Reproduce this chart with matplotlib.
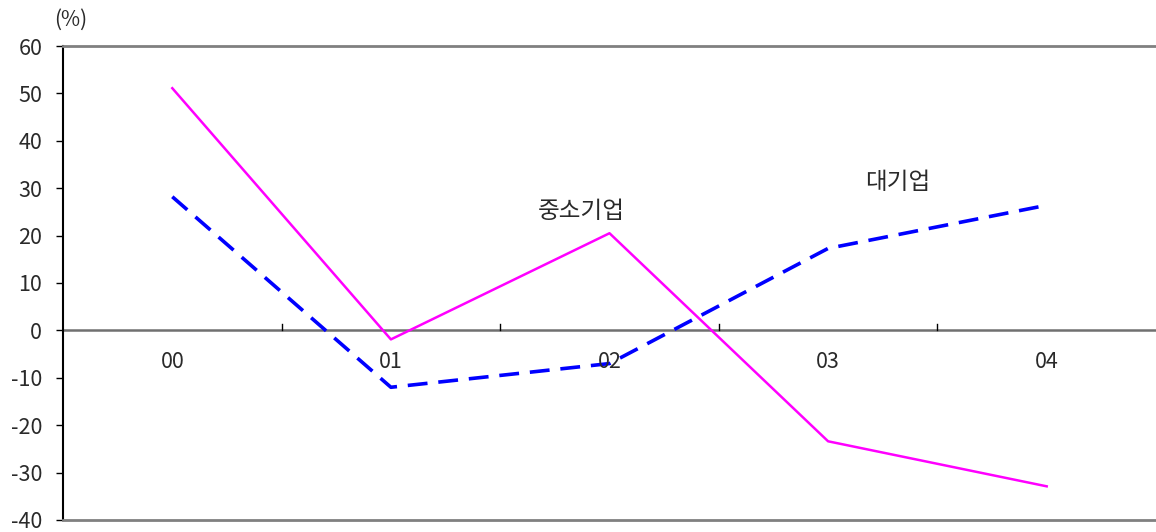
import numpy as np
import matplotlib
matplotlib.use('Agg')
import matplotlib.pyplot as plt

plt.rcParams['font.family'] = ['Noto Sans CJK KR', 'DejaVu Sans']
plt.rcParams['axes.unicode_minus'] = False

# data
years = ['00', '01', '02', '03', '04']
large_firms = [28.2, -12.0, -7.0, 17.3, 26.4]     # 대기업
small_firms = [51.1, -1.9, 20.5, -23.4, -32.9]    # 중소기업
y_ticks = [-40, -30, -20, -10, 0, 10, 20, 30, 40, 50, 60]

x = np.arange(len(years))
txt_col = '#2a2a2a'

fig = plt.figure(figsize=(11.56, 5.32), dpi=100)
ax = fig.add_axes([0.0545, 0.0226, 0.9455, 0.8909])

ax.plot(x, small_firms, color='#ff00ff', lw=1.8)
ax.plot(x, large_firms, color='#0000ff', lw=2.6, dashes=(5.5, 3))

# zero line acting as the category axis
ax.axhline(0, color='#707070', lw=1.8, zorder=1)
for xt in x[:-1] + 0.5:
    ax.plot([xt, xt], [0, 1.3], color='black', lw=1)
for xi, lab in zip(x, years):
    ax.text(xi, -6.6, lab, ha='center', va='center', fontsize=15.5, color=txt_col)

ax.set_xlim(-0.5, 4.5)
ax.set_ylim(-40, 60)
ax.set_xticks([])
ax.set_yticks(y_ticks)
ax.tick_params(axis='y', direction='out', length=5, width=1, pad=10,
               labelsize=15.5, labelcolor=txt_col)

for side in ['top', 'bottom']:
    ax.spines[side].set_color('#808080')
    ax.spines[side].set_linewidth(2)
ax.spines['right'].set_visible(False)
ax.spines['left'].set_color('black')
ax.spines['left'].set_linewidth(1.5)

ax.text(1.87, 25, '중소기업', ha='center', va='center', fontsize=17, color=txt_col)
ax.text(3.32, 31.3, '대기업', ha='center', va='center', fontsize=17, color=txt_col)
fig.text(71 / 1156, 1 - 20 / 532, '(%)', ha='center', va='center', fontsize=15, color=txt_col)

fig.savefig('out.png', dpi=100)
